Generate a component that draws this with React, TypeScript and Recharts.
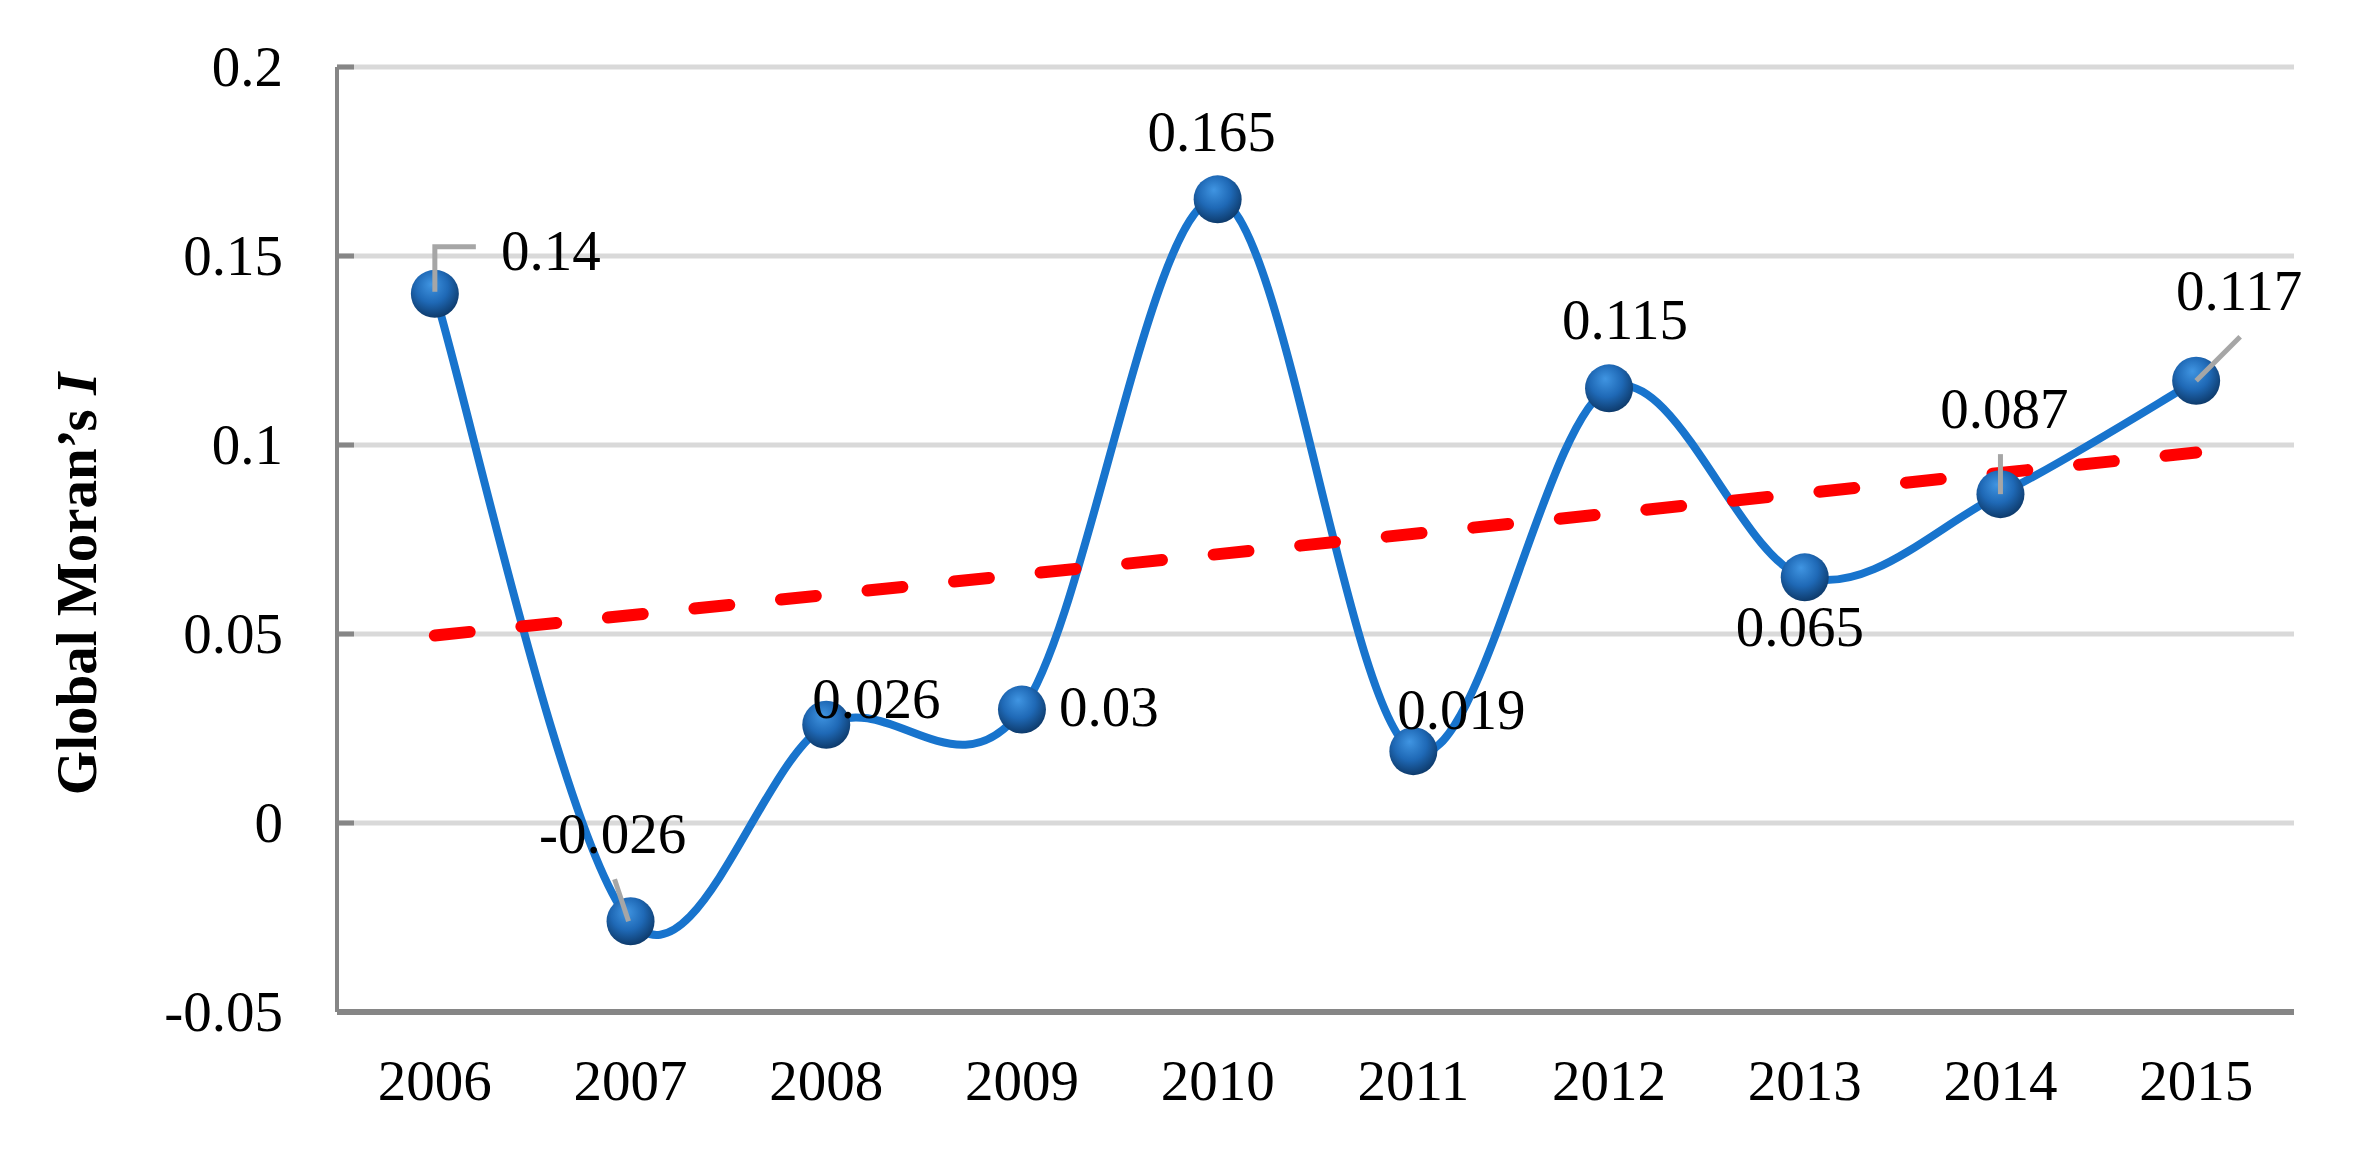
import React from 'react';
import { LineChart, Line, XAxis, YAxis, CartesianGrid } from 'recharts';

// ---- data ----
const years = ['2006', '2007', '2008', '2009', '2010', '2011', '2012', '2013', '2014', '2015'];
const moranI = [0.14, -0.026, 0.026, 0.03, 0.165, 0.019, 0.115, 0.065, 0.087, 0.117];
// linear trend line, value read at its two ends (2006 and 2015)
const trendStart = 0.0496;
const trendEnd = 0.098;
const yTicks = [-0.05, 0, 0.05, 0.1, 0.15, 0.2];

// ---- label placement (pixels relative to the point) ----
type Lay = { dx: number; dy: number; leader?: number[][] };
const labelLayout: Lay[] = [
  { dx: 116, dy: -43, leader: [[0, -2], [0, -47], [41, -47]] },
  { dx: -18, dy: -87, leader: [[-2, 0], [-16, -42]] },
  { dx: 50, dy: -26 },
  { dx: 87, dy: -3 },
  { dx: -6, dy: -67 },
  { dx: 48, dy: -41 },
  { dx: 16, dy: -68 },
  { dx: -5, dy: 50 },
  { dx: 4, dy: -85, leader: [[0, 0], [0, -40]] },
  { dx: 43, dy: -90, leader: [[0, 0], [44, -44]] },
];

const data = years.map((year, i) => ({
  year,
  value: moranI[i],
  trend: i === 0 ? trendStart : i === years.length - 1 ? trendEnd : null,
}));

const FONT = '"Liberation Serif", "Times New Roman", Times, serif';
const FS = 57;

const W = 2376;
const H = 1156;
const PLOT_LEFT = 337;
const PLOT_RIGHT_MARGIN = 82;
const PLOT_TOP = 67;
const XAXIS_H = 144;
const plotWidth = W - PLOT_LEFT - PLOT_RIGHT_MARGIN;
const halfBand = plotWidth / years.length / 2;

// Excel-like smoothed line (Catmull-Rom style bezier)
const excelSmooth = (context: any) => {
  let pts: number[][] = [];
  return {
    areaStart() {},
    areaEnd() {},
    lineStart() {
      pts = [];
    },
    point(x: number, y: number) {
      pts.push([+x, +y]);
    },
    lineEnd() {
      const n = pts.length;
      if (!n) return;
      context.moveTo(pts[0][0], pts[0][1]);
      for (let i = 0; i < n - 1; i++) {
        const p0 = pts[i - 1] || pts[i];
        const p1 = pts[i];
        const p2 = pts[i + 1];
        const p3 = pts[i + 2] || p2;
        context.bezierCurveTo(
          p1[0] + (p2[0] - p0[0]) / 6,
          p1[1] + (p2[1] - p0[1]) / 6,
          p2[0] - (p3[0] - p1[0]) / 6,
          p2[1] - (p3[1] - p1[1]) / 6,
          p2[0],
          p2[1]
        );
      }
    },
  };
};

const renderDot = (props: any) => {
  const { cx, cy, index } = props;
  if (cx == null || cy == null) return <g key={`d-${index}`} />;
  const lay = labelLayout[index] || { dx: 0, dy: -60 };
  const gid = `sphere-${index}`;
  const v = props.payload && props.payload.value != null ? props.payload.value : props.value;
  return (
    <g key={`d-${index}`}>
      <defs>
        <radialGradient id={gid} cx="45%" cy="38%" r="62%" fx="42%" fy="30%">
          <stop offset="0%" stopColor="#4095E2" />
          <stop offset="55%" stopColor="#1F69B6" />
          <stop offset="100%" stopColor="#0E3B6C" />
        </radialGradient>
      </defs>
      <circle cx={cx} cy={cy} r={24} fill={`url(#${gid})`} />
      {lay.leader && (
        <polyline
          points={lay.leader.map((p) => `${cx + p[0]},${cy + p[1]}`).join(' ')}
          stroke="#A6A6A6"
          strokeWidth={5}
          fill="none"
        />
      )}
      <text
        x={cx + lay.dx}
        y={cy + lay.dy + 19}
        textAnchor="middle"
        fontSize={FS}
        fontFamily={FONT}
        fill="#000"
      >
        {String(v)}
      </text>
    </g>
  );
};

const YTick = (props: any) => {
  const { x, y, payload } = props;
  const axisX = x + 54;
  return (
    <g>
      <line x1={axisX} x2={axisX + 17} y1={y} y2={y} stroke="#868686" strokeWidth={5} />
      <text x={x} y={y + 19} textAnchor="end" fontSize={FS} fontFamily={FONT} fill="#000">
        {String(payload.value)}
      </text>
    </g>
  );
};

const XTick = (props: any) => {
  const { x, y, payload } = props;
  return (
    <text x={x} y={y + 40} textAnchor="middle" fontSize={FS} fontFamily={FONT} fill="#000">
      {payload.value}
    </text>
  );
};

const YTitle = () => (
  <text
    transform="translate(96, 584) rotate(-90)"
    textAnchor="middle"
    fontSize={FS}
    fontFamily={FONT}
    fontWeight="bold"
    fill="#000"
  >
    Global Moran’s <tspan fontStyle="italic">I</tspan>
  </text>
);

export default function App() {
  return (
    <div style={{ position: 'absolute', left: 0, top: 0, width: W, height: H, background: '#fff', fontFamily: FONT }}>
      <LineChart
        width={W}
        height={H}
        data={data}
        margin={{ top: PLOT_TOP, right: PLOT_RIGHT_MARGIN, bottom: 0, left: 0 }}
      >
        <CartesianGrid horizontal vertical={false} stroke="#D9D9D9" strokeWidth={5} />
        <XAxis
          dataKey="year"
          type="category"
          interval={0}
          padding={{ left: halfBand, right: halfBand }}
          height={XAXIS_H}
          axisLine={{ stroke: '#868686', strokeWidth: 6 }}
          tickLine={false}
          tickSize={0}
          tickMargin={48}
          tick={<XTick />}
        />
        <YAxis
          type="number"
          domain={[-0.05, 0.2]}
          ticks={yTicks}
          interval={0}
          width={PLOT_LEFT}
          axisLine={{ stroke: '#868686', strokeWidth: 4 }}
          tickLine={false}
          tickSize={0}
          tickMargin={54}
          tick={<YTick />}
          label={<YTitle />}
        />
        <Line
          dataKey="value"
          type={excelSmooth as any}
          stroke="#1874CD"
          strokeWidth={8}
          dot={renderDot}
          activeDot={false}
          isAnimationActive={false}
        />
        <Line
          dataKey="trend"
          type="linear"
          connectNulls
          stroke="#FF0000"
          strokeWidth={12}
          strokeDasharray="35 52"
          strokeLinecap="round"
          dot={false}
          activeDot={false}
          isAnimationActive={false}
        />
      </LineChart>
    </div>
  );
}
